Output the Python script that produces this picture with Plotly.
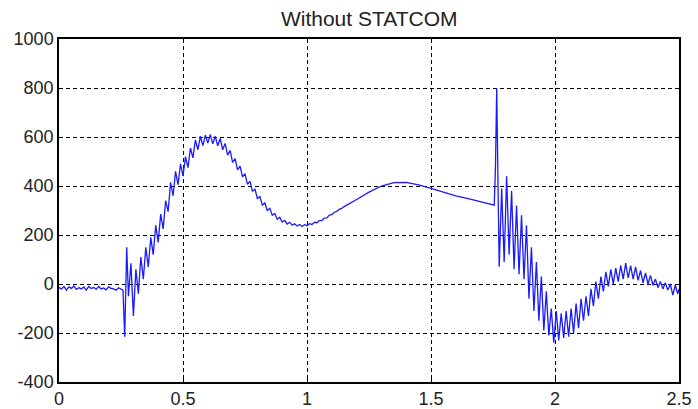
import plotly.graph_objects as go

title_text = "Without STATCOM"

# Segment A: pre-disturbance noise (0 .. 0.25)
t_a = [0.00, 0.01, 0.02, 0.03, 0.04, 0.05, 0.06, 0.07, 0.08, 0.09, 0.10, 0.11, 0.12,
       0.13, 0.14, 0.15, 0.16, 0.17, 0.18, 0.19, 0.20, 0.21, 0.22, 0.23, 0.24, 0.25]
v_a = [-15, -20, -10, -25, -12, -18, -8, -22, -15, -20, -12, -25, -10,
       -18, -14, -22, -10, -20, -16, -24, -12, -18, -20, -25, -15, -20]

# Segment B: disturbance and first swing (0.258 .. 1.00)
t_b = [0.258, 0.265, 0.268, 0.273, 0.28, 0.29, 0.30, 0.31, 0.32, 0.33, 0.34, 0.35, 0.36,
       0.37, 0.38, 0.39, 0.40, 0.41, 0.42, 0.43, 0.44, 0.45, 0.46, 0.47, 0.48, 0.49,
       0.50, 0.51, 0.52, 0.53, 0.54, 0.55, 0.56, 0.57, 0.58, 0.59, 0.60, 0.61, 0.62,
       0.63, 0.64, 0.65, 0.66, 0.67, 0.68, 0.69, 0.70, 0.71, 0.72, 0.73, 0.74, 0.75,
       0.76, 0.77, 0.78, 0.79, 0.80, 0.81, 0.82, 0.83, 0.84, 0.85, 0.86, 0.87, 0.88,
       0.89, 0.90, 0.91, 0.92, 0.93, 0.94, 0.95, 0.96, 0.97, 0.98, 0.99, 1.00]
v_b = [-25, -215, -30, 150, -50, 85, -130, 60, -40, 110, 20, 150, 70,
       190, 120, 240, 170, 285, 225, 340, 295, 415, 360, 460, 405, 490,
       440, 520, 475, 555, 515, 588, 548, 603, 565, 608, 575, 610, 572,
       603, 564, 594, 548, 574, 526, 545, 496, 512, 466, 481, 437, 450,
       407, 419, 378, 388, 349, 357, 322, 331, 300, 309, 281, 288, 264,
       272, 253, 260, 245, 252, 240, 246, 237, 243, 235, 242, 238]

# Segment C: smooth second swing (1.01 .. 1.755)
t_c = [1.01, 1.02, 1.03, 1.04, 1.05, 1.06, 1.07, 1.08, 1.09, 1.10, 1.11, 1.12, 1.13,
       1.14, 1.15, 1.20, 1.25, 1.30, 1.35, 1.40, 1.45, 1.50, 1.55, 1.60, 1.65, 1.70,
       1.74, 1.755]
v_c = [246, 243, 252, 250, 259, 259, 269, 270, 281, 283, 293, 296, 305,
       309, 316, 345, 375, 400, 414, 415, 405, 390, 374, 360, 348, 337,
       326, 322]

# Segment D: second disturbance (1.76 .. 2.5)
t_d = [1.760, 1.765, 1.770, 1.775, 1.785, 1.795, 1.805, 1.815, 1.825, 1.835, 1.845,
       1.855, 1.865, 1.875, 1.885, 1.895, 1.905, 1.915, 1.925, 1.935, 1.945, 1.955,
       1.965, 1.975, 1.985, 1.995, 2.005, 2.015, 2.025, 2.035, 2.045, 2.055, 2.065,
       2.075, 2.085, 2.095, 2.105, 2.115, 2.125, 2.135, 2.145, 2.155, 2.165, 2.175,
       2.185, 2.195, 2.205, 2.215, 2.225, 2.235, 2.245, 2.255, 2.265, 2.275, 2.285,
       2.295, 2.305, 2.315, 2.325, 2.335, 2.345, 2.355, 2.365, 2.375, 2.385, 2.395,
       2.405, 2.415, 2.425, 2.435, 2.445, 2.455, 2.465, 2.475, 2.485, 2.495, 2.500]
v_d = [480, 800, 420, 70, 390, 90, 440, 120, 380, 60, 320,
       40, 280, 20, 240, -60, 150, -110, 90, -150, 30, -190,
       -30, -210, -100, -240, -110, -230, -120, -220, -110, -215, -100,
       -200, -80, -180, -60, -150, -50, -130, -20, -90, 10, -60,
       30, -30, 50, -10, 60, 0, 65, 10, 75, 20, 85,
       25, 75, 20, 70, 15, 55, 5, 45, 0, 35, -5,
       20, -15, 10, -20, 5, -25, 0, -45, -5, -40, -20]

x_ticks = [0, 0.5, 1, 1.5, 2, 2.5]
x_tick_labels = ["0", "0.5", "1", "1.5", "2", "2.5"]
y_ticks = [-400, -200, 0, 200, 400, 600, 800, 1000]
y_tick_labels = ["-400", "-200", "0", "200", "400", "600", "800", "1000"]

t_all = t_a + t_b + t_c + t_d
v_all = v_a + v_b + v_c + v_d

fig = go.Figure()
fig.add_trace(go.Scatter(x=t_all, y=v_all, mode="lines",
                         line=dict(color="#1a1aff", width=1.3),
                         showlegend=False, hoverinfo="skip"))

axis_common = dict(
    showline=True, linecolor="black", linewidth=1.5, mirror=True,
    showgrid=True, gridcolor="black", gridwidth=1, griddash="4px,3px",
    zeroline=False, ticks="inside", ticklen=4, tickcolor="black",
    automargin=False,
    tickfont=dict(family="Liberation Sans, Arial", size=18, color="#222222"),
)

fig.update_layout(
    width=698, height=409,
    margin=dict(l=59, r=19, t=39, b=27),
    paper_bgcolor="white", plot_bgcolor="white",
    title=dict(text=title_text, x=0.529, xanchor="center", y=0.955, yanchor="middle",
               font=dict(family="Liberation Sans, Arial", size=21, color="#222222")),
    xaxis=dict(range=[0, 2.5], tickvals=x_ticks, ticktext=x_tick_labels, ticklabelstandoff=0,
               **axis_common),
    yaxis=dict(range=[-400, 1000], tickvals=y_ticks, ticktext=y_tick_labels, **axis_common),
)

fig.write_html("out.html")
